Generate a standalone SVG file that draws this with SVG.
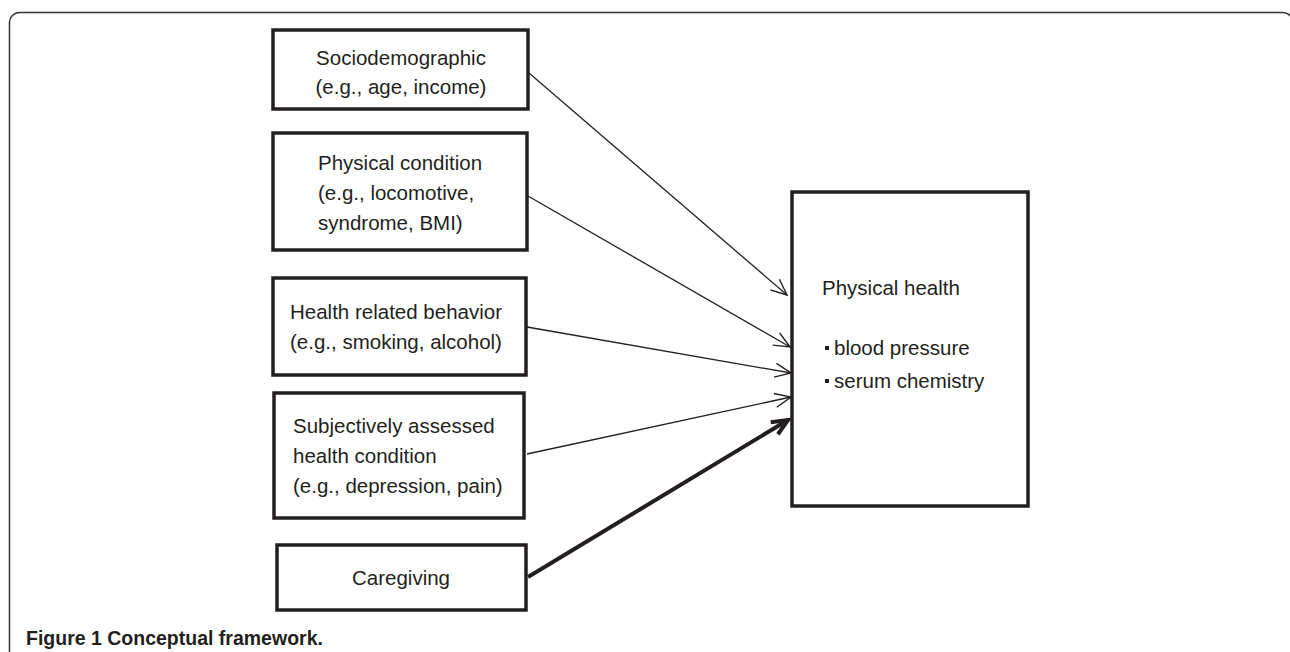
<svg xmlns="http://www.w3.org/2000/svg" width="1290" height="652" viewBox="0 0 1290 652">
<defs>
<style>
.box{fill:#fff;stroke:#231f20;stroke-width:3.5}
.t{font-family:"Liberation Sans",Arial,sans-serif;font-size:20.5px;fill:#231f20}
.c{text-anchor:middle}
.thin{stroke:#231f20;stroke-width:1.3;fill:none}
.thick{stroke:#231f20;stroke-width:4;fill:none}
.cap{font-family:"Liberation Sans",Arial,sans-serif;font-size:19.5px;font-weight:bold;fill:#231f20}
</style>
<marker id="ah" markerUnits="userSpaceOnUse" viewBox="0 0 18 16" refX="17" refY="8" markerWidth="18" markerHeight="16" orient="auto">
<path d="M1,1 L17,8 L1,15" fill="none" stroke="#231f20" stroke-width="1.4"/>
</marker>
<marker id="ahb" markerUnits="userSpaceOnUse" viewBox="0 0 22 20" refX="19" refY="10" markerWidth="22" markerHeight="20" orient="auto">
<path d="M3,3 L19,10 L3,17" fill="none" stroke="#231f20" stroke-width="4" stroke-linejoin="miter"/>
</marker>
</defs>
<rect width="1290" height="652" fill="#fff"/>
<path d="M9.5,652 V22 A10,10 0 0 1 19.5,12.5 H1283 A10,10 0 0 1 1293,22.5" fill="none" stroke="#333" stroke-width="1.5"/>

<g id="connectors">
<line class="thin" x1="529" y1="73" x2="787" y2="295" marker-end="url(#ah)"/>
<line class="thin" x1="528" y1="196" x2="790" y2="347" marker-end="url(#ah)"/>
<line class="thin" x1="527" y1="327" x2="791" y2="373" marker-end="url(#ah)"/>
<line class="thin" x1="527" y1="454" x2="791" y2="397" marker-end="url(#ah)"/>
<line class="thick" x1="528" y1="577" x2="788" y2="420" marker-end="url(#ahb)"/>
</g>

<g id="sociodemographic">
<rect class="box" x="273" y="30" width="255" height="79"/>
<text class="t c" x="401" y="65">Sociodemographic</text>
<text class="t c" x="401" y="94">(e.g., age, income)</text>
</g>

<g id="physical-condition">
<rect class="box" x="273" y="133" width="254" height="117"/>
<text class="t" x="318" y="170">Physical condition</text>
<text class="t" x="318" y="200">(e.g., locomotive,</text>
<text class="t" x="318" y="230">syndrome, BMI)</text>
</g>

<g id="health-behavior">
<rect class="box" x="273" y="278" width="253" height="97"/>
<text class="t" x="290" y="319">Health related behavior</text>
<text class="t" x="290" y="349">(e.g., smoking, alcohol)</text>
</g>

<g id="subjective-health">
<rect class="box" x="274" y="393" width="250" height="125"/>
<text class="t" x="293" y="433">Subjectively assessed</text>
<text class="t" x="293" y="463">health condition</text>
<text class="t" x="293" y="493">(e.g., depression, pain)</text>
</g>

<g id="caregiving">
<rect class="box" x="277" y="545" width="249" height="65"/>
<text class="t c" x="401" y="585">Caregiving</text>
</g>

<g id="physical-health">
<rect class="box" x="792" y="192" width="236" height="314"/>
<text class="t" x="822" y="295">Physical health</text>
<rect x="825" y="346" width="4" height="4" fill="#231f20"/>
<text class="t" x="834" y="355">blood pressure</text>
<rect x="825" y="379" width="4" height="4" fill="#231f20"/>
<text class="t" x="834" y="388">serum chemistry</text>
</g>

<text class="cap" x="26" y="645">Figure 1 Conceptual framework.</text>
</svg>
